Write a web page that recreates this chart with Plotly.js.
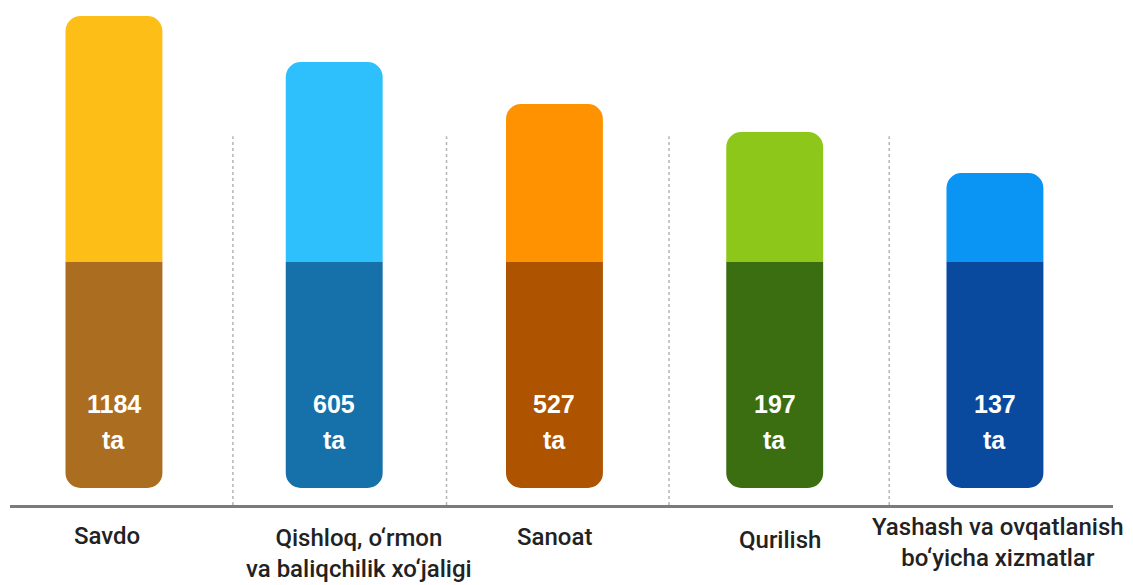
<!DOCTYPE html>
<html>
<head>
<meta charset="utf-8">
<script src="https://cdn.plot.ly/plotly-3.0.1.min.js"></script>
<style>
  html, body { margin: 0; padding: 0; background: #ffffff; }
  #chart { width: 1133px; height: 585px; }
</style>
</head>
<body>
<div id="chart"></div>
<script>
// ---- data ----
const categories = [
  'Savdo',
  'Qishloq, o‘rmon<br>va baliqchilik xo‘jaligi',
  'Sanoat',
  'Qurilish',
  'Yashash va ovqatlanish<br>bo‘yicha xizmatlar'
];
const counts = [1184, 605, 527, 197, 137];
const countUnit = 'ta';
// drawn bar lengths (decorative, not proportional to counts)
const barLength = [472, 426, 384, 356, 315];
const lowerPart = [226, 226, 226, 226, 226];

// ---- styles ----
const topColors = ['#FDBE17', '#2EC0FC', '#FF9200', '#8DC71A', '#0A95F5'];
const bottomColors = ['#AB6D1F', '#1670AA', '#AE5300', '#3B6E10', '#0A4A9E'];
const labelShift = [-7, 25, 0, 5, 3];
const labelYShift = [-31, -48, -32, -35, -37];

// the split between the two colours sits on the value axis zero
const upperLen = barLength.map((v, i) => v - lowerPart[i]);
const lowerNeg = lowerPart.map(v => -v);

const barWidth = 0.44;
const traces = [
  { // lower part, grows downward from the split, rounded at its far end
    type: 'bar', x: categories, y: lowerNeg,
    width: barWidth,
    marker: { color: bottomColors, cornerradius: 15, line: { width: 0 } },
    hoverinfo: 'skip', showlegend: false
  },
  { // upper part, grows upward from the split, rounded at its far end
    type: 'bar', x: categories, y: upperLen,
    width: barWidth,
    marker: { color: topColors, cornerradius: 15, line: { width: 0 } },
    hoverinfo: 'skip', showlegend: false
  }
];

const valueFont = { family: 'Liberation Sans, Arial, sans-serif', size: 25, color: '#ffffff', weight: 'bold' };
const annotations = [];
categories.forEach((c, i) => {
  annotations.push({
    x: c, xref: 'x', y: -142, yref: 'y', text: String(counts[i]), showarrow: false,
    font: valueFont, xanchor: 'center', yanchor: 'middle'
  });
  annotations.push({
    x: c, xref: 'x', y: -178, yref: 'y', text: countUnit, showarrow: false,
    font: valueFont, xanchor: 'center', yanchor: 'middle'
  });
  annotations.push({
    x: c, xref: 'x', y: 0, yref: 'paper', text: c, showarrow: false,
    font: { family: 'Roboto, Liberation Sans, sans-serif', size: 24, color: '#222222', weight: 500 },
    xanchor: 'center', yanchor: 'middle', align: 'center',
    xshift: labelShift[i], yshift: labelYShift[i]
  });
});

const shapes = [0.54, 1.51, 2.52, 3.52].map(p => ({
  type: 'line', xref: 'x', yref: 'paper', x0: p, x1: p, y0: 0, y1: 0.73,
  line: { color: '#b5b5b5', width: 1.5, dash: 'dot' }, layer: 'below'
}));

const layout = {
  width: 1133, height: 585,
  margin: { l: 10, r: 20, t: 0, b: 80 },
  paper_bgcolor: '#ffffff', plot_bgcolor: '#ffffff',
  barmode: 'relative',
  xaxis: {
    type: 'category', range: [-0.472, 4.536],
    showline: true, linecolor: '#7b7b7b', linewidth: 3,
    showgrid: false, zeroline: false, showticklabels: false, ticks: ''
  },
  yaxis: { range: [-243, 262], visible: false, showgrid: false, zeroline: false },
  annotations: annotations,
  shapes: shapes,
  showlegend: false,
  hovermode: false
};

Plotly.newPlot('chart', traces, layout, { staticPlot: true, displayModeBar: false });
</script>
</body>
</html>
